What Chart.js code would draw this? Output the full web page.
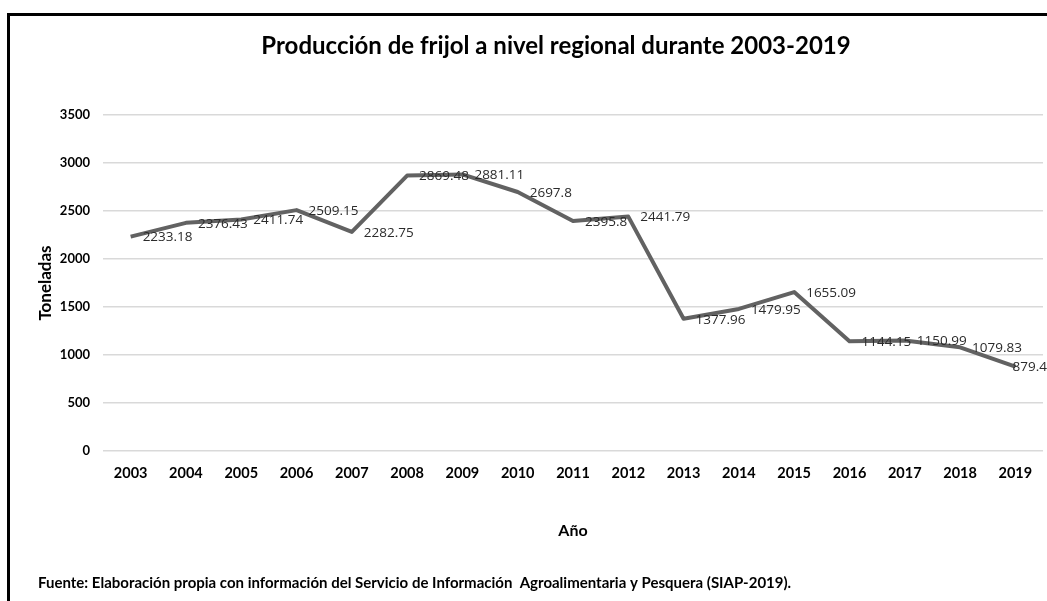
<!DOCTYPE html>
<html>
<head>
<meta charset="utf-8">
<script src="https://cdn.jsdelivr.net/npm/chart.js@4.4.1/dist/chart.umd.min.js"></script>
<style>
  html, body { margin: 0; padding: 0; background: #fff; }
  #wrap { position: relative; width: 1047px; height: 601px; overflow: hidden; }
  #frame { position: absolute; left: 7px; top: 13px; right: -10px; bottom: -10px;
           border-top: 3px solid #000; border-left: 3px solid #000; pointer-events: none; }
</style>
</head>
<body>
<div id="wrap">
  <canvas id="grafica" width="1047" height="601"></canvas>
  <div id="frame"></div>
</div>
<script>
const anios = ['2003', '2004', '2005', '2006', '2007', '2008', '2009', '2010', '2011',
  '2012', '2013', '2014', '2015', '2016', '2017', '2018', '2019'];
const toneladas = [2233.18, 2376.43, 2411.74, 2509.15, 2282.75, 2869.48, 2881.11, 2697.8, 2395.8,
  2441.79, 1377.96, 1479.95, 1655.09, 1144.15, 1150.99, 1079.83, 879.4];
const titulo = 'Producción de frijol a nivel regional durante 2003-2019';
const fuente = 'Fuente: Elaboración propia con información del Servicio de Información  Agroalimentaria y Pesquera (SIAP-2019).';

const ctx = document.getElementById('grafica');

// etiquetas de valor a la derecha de cada punto (como en Excel)
const etiquetas = {
  id: 'etiquetas',
  afterDatasetsDraw(chart) {
    const c = chart.ctx;
    const meta = chart.getDatasetMeta(0);
    c.save();
    c.font = '13.5px "Open Sans", sans-serif';
    c.fillStyle = '#2b2b2b';
    c.textBaseline = 'middle';
    meta.data.forEach((pt, i) => {
      const txt = String(chart.data.datasets[0].data[i]);
      const w = c.measureText(txt).width;
      const x = Math.min(pt.x + 12, chart.width - w);
      c.fillText(txt, x, pt.y + 1);
    });
    c.restore();
  }
};

// titulo y nota de fuente
const textos = {
  id: 'textos',
  afterDraw(chart) {
    const c = chart.ctx;
    c.save();
    c.fillStyle = '#000';
    c.textBaseline = 'middle';
    c.textAlign = 'center';
    c.font = 'bold 24px Lato, sans-serif';
    c.fillText(titulo, 556, 46);
    c.textAlign = 'left';
    c.font = 'bold 15px Lato, sans-serif';
    c.fillText(fuente, 38, 583);
    c.restore();
  }
};

new Chart(ctx, {
  type: 'line',
  data: {
    labels: anios,
    datasets: [{
      label: 'Toneladas',
      data: toneladas,
      borderColor: '#626262',
      borderWidth: 4,
      borderJoinStyle: 'round',
      pointRadius: 0,
      tension: 0,
      fill: false
    }]
  },
  options: {
    responsive: false,
    animation: false,
    layout: { padding: { top: 115, right: 4, bottom: 0, left: 0 } },
    plugins: {
      legend: { display: false },
      title: { display: false },
      tooltip: { enabled: false }
    },
    scales: {
      x: {
        offset: true,
        afterFit(scale) { scale.height = 150; },
        grid: { display: false },
        border: { display: false },
        ticks: {
          padding: 6,
          color: '#000',
          font: { family: 'Lato', size: 14.5, weight: 'bold' }
        },
        title: {
          display: true,
          text: 'Año',
          color: '#000',
          font: { family: 'Lato', size: 16, weight: 'bold' },
          padding: { top: 0, bottom: 61 }
        }
      },
      y: {
        min: 0,
        max: 3500,
        afterFit(scale) { scale.width = 103; },
        grid: { color: '#d9d9d9', lineWidth: 1.5, drawTicks: false },
        border: { display: false },
        ticks: {
          stepSize: 500,
          padding: 13,
          color: '#000',
          font: { family: 'Lato', size: 13, weight: 'bold' },
          callback: (v) => String(v)
        },
        title: {
          display: true,
          text: 'Toneladas',
          color: '#000',
          font: { family: 'Lato', size: 17, weight: 'bold' },
          padding: { top: 35, bottom: 0 }
        }
      }
    }
  },
  plugins: [etiquetas, textos]
});
</script>
</body>
</html>
